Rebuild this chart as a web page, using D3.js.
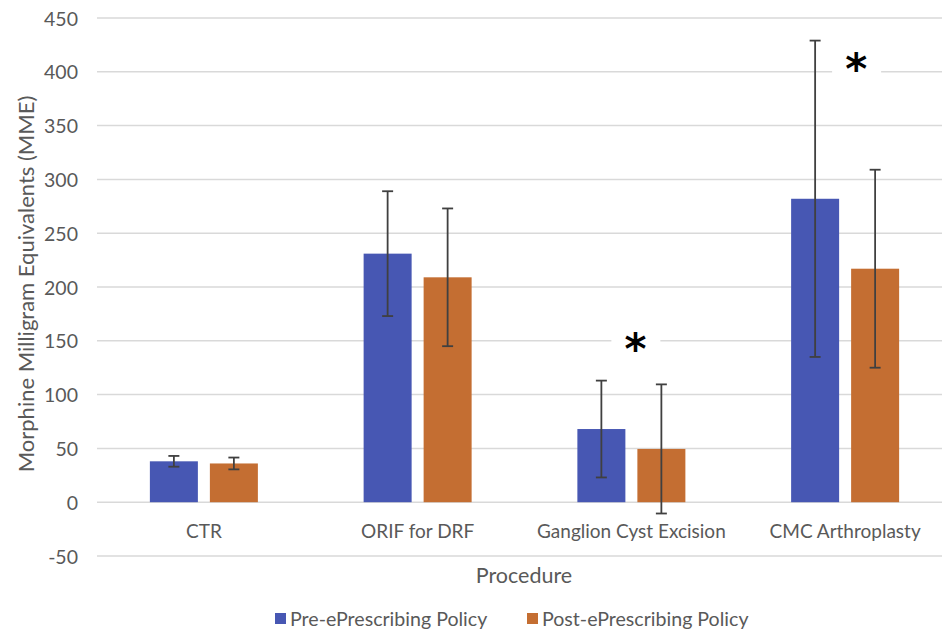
<!DOCTYPE html>
<html><head><meta charset="utf-8">
<script src="https://cdn.jsdelivr.net/npm/d3@7"></script>
<style>body{margin:0;background:#fff;} svg{display:block;font-family:Lato, "Open Sans", sans-serif;}</style>
</head><body>
<svg id="c" width="942" height="630"></svg>
<script>
const categories = ["CTR", "ORIF for DRF", "Ganglion Cyst Excision", "CMC Arthroplasty"];
const seriesNames = ["Pre-ePrescribing Policy", "Post-ePrescribing Policy"];
const preValues = [38, 231, 68, 282];
const preErrors = [5, 58, 45, 147];
const postValues = [36, 209, 49.5, 217];
const postErrors = [5.5, 64, 60, 92];
const significant = [false, false, true, true];
const starLevel = [null, null, 148, 408];
const yTicks = [-50, 0, 50, 100, 150, 200, 250, 300, 350, 400, 450];
const colors = ["#4757B3", "#C46E32"];

const svg = d3.select("#c");
const y = d3.scaleLinear().domain([-50, 450]).range([556, 18]);
const x0 = d3.scaleBand().domain(categories).range([97, 952]);
const x1 = d3.scaleBand().domain([0, 1]).range([0, 108]).paddingInner(0.2);
const gridX0 = 97, gridX1 = 952;
const textCol = "#595959";

// gridlines
svg.append("g").selectAll("line").data(yTicks).join("line")
  .attr("x1", gridX0).attr("x2", gridX1)
  .attr("y1", d => y(d)).attr("y2", d => y(d))
  .attr("stroke", "#d9d9d9").attr("stroke-width", 1.5);

// y axis labels
const yAxis = d3.axisLeft(y).tickValues(yTicks).tickFormat(d => String(d)).tickSize(0).tickPadding(0);
const ga = svg.append("g").attr("transform", "translate(78,0)").call(yAxis);
ga.select(".domain").remove();
ga.selectAll("text").attr("font-size", 19.5).attr("fill", textCol).attr("font-family", "Lato, sans-serif").attr("dy", "0.36em");

// x axis labels
const xAxis = d3.axisBottom(x0).tickSize(0).tickPadding(0);
const gx = svg.append("g").attr("transform", "translate(0,538)").call(xAxis);
gx.select(".domain").remove();
gx.selectAll("text").attr("font-size", 19).attr("fill", textCol).attr("font-family", "Lato, sans-serif").attr("y", 0).attr("dy", 0);

const data = categories.map((c, i) => ({c, i, vals: [
  {s: 0, v: preValues[i], e: preErrors[i]},
  {s: 1, v: postValues[i], e: postErrors[i]}]}));

const groups = svg.append("g").selectAll("g").data(data).join("g")
  .attr("transform", d => `translate(${x0(d.c) + (x0.bandwidth() - 108) / 2},0)`);

groups.selectAll("rect").data(d => d.vals).join("rect")
  .attr("x", d => x1(d.s)).attr("width", x1.bandwidth())
  .attr("y", d => y(Math.max(0, d.v))).attr("height", d => Math.abs(y(0) - y(d.v)))
  .attr("fill", d => colors[d.s]);

const cx = d => x1(d.s) + x1.bandwidth() / 2;
const eb = groups.selectAll("g.eb").data(d => d.vals).join("g").attr("class", "eb")
  .attr("stroke", "#404040").attr("stroke-width", 1.8);
eb.append("line").attr("x1", cx).attr("x2", cx)
  .attr("y1", d => y(d.v + d.e)).attr("y2", d => y(d.v - d.e));
eb.append("line").attr("x1", d => cx(d) - 5.5).attr("x2", d => cx(d) + 5.5)
  .attr("y1", d => y(d.v + d.e)).attr("y2", d => y(d.v + d.e));
eb.append("line").attr("x1", d => cx(d) - 5.5).attr("x2", d => cx(d) + 5.5)
  .attr("y1", d => y(d.v - d.e)).attr("y2", d => y(d.v - d.e));

// significance asterisks with white box hiding the gridline
const sigData = data.filter(d => significant[d.i]);
const starDx = [0, 0, 4, 11];
const sg = svg.append("g").selectAll("g").data(sigData).join("g")
  .attr("transform", d => `translate(${x0(d.c) + x0.bandwidth() / 2 + starDx[d.i]},${y(starLevel[d.i])})`);
sg.append("rect").attr("x", -24).attr("y", -14).attr("width", 49).attr("height", 28).attr("fill", "#fff");
sg.append("text").attr("text-anchor", "middle").attr("y", 21).attr("font-size", 42).attr("font-weight", "bold")
  .attr("fill", "#000").attr("font-family", "DejaVu Sans, sans-serif").text("*");

// axis titles
svg.append("text").attr("transform", "translate(34,284) rotate(-90)").attr("text-anchor", "middle")
  .attr("font-size", 22).attr("fill", textCol).text("Morphine Milligram Equivalents (MME)");
svg.append("text").attr("x", 524).attr("y", 583).attr("text-anchor", "middle")
  .attr("font-size", 21.5).attr("fill", textCol).text("Procedure");

// legend
const legX = [275, 527];
const lg = svg.append("g").selectAll("g").data(seriesNames).join("g")
  .attr("transform", (d, i) => `translate(${legX[i]},613)`);
lg.append("rect").attr("width", 11).attr("height", 11).attr("fill", (d, i) => colors[i]);
lg.append("text").attr("x", 15).attr("y", 12.5).attr("font-size", 19.6).attr("fill", textCol).text(d => d);
</script>
</body></html>
